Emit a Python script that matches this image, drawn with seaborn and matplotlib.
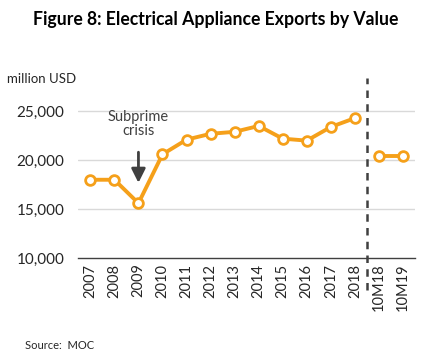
import matplotlib
matplotlib.use("Agg")
import matplotlib.pyplot as plt
import matplotlib.transforms as mtransforms
import seaborn as sns
import pandas as pd
import numpy as np

categories = ["2007", "2008", "2009", "2010", "2011", "2012", "2013", "2014",
              "2015", "2016", "2017", "2018", "10M18", "10M19"]
values = [18000, 18000, 15600, 20600, 22100, 22700, 22900, 23500,
          22200, 22000, 23400, 24300, 20400, 20400]
segments = ["annual"] * 12 + ["ytd"] * 2
yticks = [10000, 15000, 20000, 25000]

orange = "#F5A01A"
dark = "#404040"

sns.set_style("white")
plt.rcParams["font.family"] = ["Lato", "DejaVu Sans"]

df = pd.DataFrame({"pos": np.arange(len(categories)), "value": values, "segment": segments})

fig = plt.figure(figsize=(4.31, 3.6), dpi=100)
ax = fig.add_axes([0.1817, 0.2833, 0.7813, 0.5])

for seg, sub in df.groupby("segment"):
    sns.lineplot(data=sub, x="pos", y="value", ax=ax, color=orange, linewidth=2.8,
                 marker="o", markersize=7, markerfacecolor="white",
                 markeredgecolor=orange, markeredgewidth=2, zorder=3)

ax.set_xlim(-0.5, len(categories) - 0.5)
ax.set_ylim(10000, 28400)
ax.set_yticks(yticks)
ax.set_yticklabels([f"{v:,}" for v in yticks], fontsize=11)
ax.set_xticks(df["pos"])
ax.set_xticklabels(categories, rotation=90, fontsize=10.5)
ax.tick_params(axis="both", length=0, pad=4)
ax.tick_params(axis="y", pad=10)
ax.set_xlabel("")
ax.set_ylabel("")

for v in yticks[1:]:
    ax.axhline(v, color="#D9D9D9", linewidth=1, zorder=1)
for s in ["top", "right", "left"]:
    ax.spines[s].set_visible(False)
ax.spines["bottom"].set_color(dark)
ax.spines["bottom"].set_linewidth(1)

# divider between annual and year-to-date
trans = mtransforms.blended_transform_factory(ax.transData, ax.transAxes)
ax.plot([11.5, 11.5], [-0.178, 1.0], transform=trans, color=dark, linewidth=1.8,
        linestyle=(0, (3, 2.5)), clip_on=False, zorder=2)

# subprime annotation
ax.annotate("", xy=(2, 17400), xytext=(2, 21100),
            arrowprops=dict(arrowstyle="-|>,head_width=0.3,head_length=0.6",
                            color=dark, linewidth=2, mutation_scale=14))
ax.text(2, 22300, "Subprime\ncrisis", ha="center", va="bottom", fontsize=10.5,
        color="#404040", linespacing=1.0)

fig.text(0.5, 0.947, "Figure 8: Electrical Appliance Exports by Value", ha="center",
         va="center", fontsize=12.7, fontweight="bold", color="black")
fig.text(0.016, 0.78, "million USD", ha="left", va="center", fontsize=9.5)
fig.text(0.058, 0.04, "Source:  MOC", ha="left", va="center", fontsize=8)

fig.savefig("out.png", dpi=100)
